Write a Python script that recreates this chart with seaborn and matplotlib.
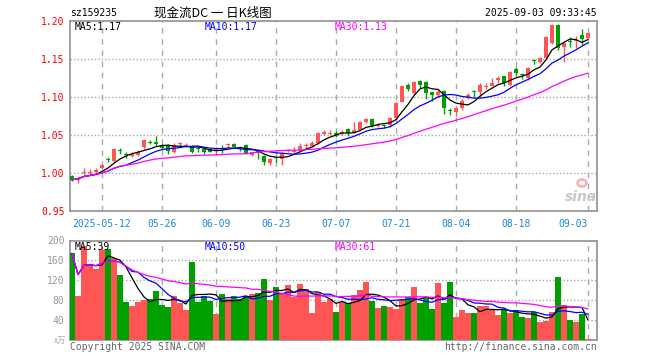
import numpy as np
import pandas as pd
import seaborn as sns
import matplotlib
matplotlib.use("Agg")
import matplotlib.pyplot as plt
from matplotlib.patches import Ellipse

# ---------------- data ----------------
holidays = ['2025-05-01', '2025-05-02', '2025-05-05', '2025-06-02']

opens = [0.996, 0.991, 1.000, 1.000, 1.001, 1.006, 1.018, 1.016, 1.030, 1.025,
         1.023, 1.024, 1.034, 1.041, 1.041, 1.037, 1.037, 1.027, 1.0375, 1.036,
         1.036, 1.032, 1.032, 1.031, 1.029, 1.032, 1.037, 1.038, 1.033, 1.037,
         1.024, 1.029, 1.023, 1.013, 1.020, 1.019, 1.029, 1.027, 1.030, 1.036,
         1.035, 1.040, 1.051, 1.051, 1.053, 1.052, 1.058, 1.053, 1.057, 1.067,
         1.071, 1.062, 1.063, 1.063, 1.072, 1.094, 1.116, 1.105, 1.121, 1.120,
         1.106, 1.103, 1.108, 1.082, 1.080, 1.085, 1.099, 1.108, 1.107, 1.113,
         1.115, 1.123, 1.127, 1.116, 1.137, 1.130, 1.125, 1.148, 1.146, 1.151,
         1.171, 1.195, 1.166, 1.1735, 1.174, 1.181, 1.178]
highs = [0.997, 0.995, 1.006, 1.005, 1.006, 1.012, 1.021, 1.033, 1.033, 1.028,
         1.027, 1.030, 1.045, 1.044, 1.049, 1.038, 1.038, 1.039, 1.041, 1.039,
         1.037, 1.036, 1.034, 1.033, 1.034, 1.037, 1.040, 1.039, 1.036, 1.038,
         1.027, 1.030, 1.024, 1.020, 1.021, 1.028, 1.032, 1.034, 1.040, 1.039,
         1.042, 1.054, 1.056, 1.056, 1.055, 1.056, 1.059, 1.067, 1.068, 1.072,
         1.072, 1.066, 1.064, 1.074, 1.093, 1.116, 1.119, 1.121, 1.122, 1.121,
         1.107, 1.109, 1.109, 1.085, 1.086, 1.097, 1.105, 1.109, 1.118, 1.119,
         1.125, 1.127, 1.128, 1.134, 1.139, 1.131, 1.140, 1.150, 1.152, 1.180,
         1.196, 1.196, 1.173, 1.179, 1.180, 1.190, 1.185]
lows = [0.989, 0.987, 0.997, 0.997, 0.999, 1.005, 1.014, 1.015, 1.025, 1.020,
        1.021, 1.022, 1.032, 1.038, 1.036, 1.031, 1.025, 1.026, 1.035, 1.034,
        1.026, 1.027, 1.025, 1.027, 1.025, 1.026, 1.033, 1.033, 1.029, 1.025,
        1.023, 1.019, 1.010, 1.011, 1.015, 1.011, 1.027, 1.026, 1.028, 1.031,
        1.034, 1.038, 1.050, 1.050, 1.048, 1.050, 1.049, 1.052, 1.055, 1.066,
        1.060, 1.060, 1.059, 1.061, 1.071, 1.093, 1.108, 1.103, 1.112, 1.097,
        1.095, 1.100, 1.078, 1.076, 1.075, 1.083, 1.097, 1.100, 1.101, 1.110,
        1.114, 1.118, 1.115, 1.115, 1.129, 1.124, 1.122, 1.144, 1.145, 1.150,
        1.170, 1.162, 1.146, 1.166, 1.165, 1.168, 1.176]
closes = [0.991, 0.994, 1.001, 1.001, 1.004, 1.010, 1.017, 1.032, 1.029, 1.024,
          1.025, 1.027, 1.043, 1.040, 1.038, 1.033, 1.029, 1.037, 1.039, 1.037,
          1.028, 1.031, 1.028, 1.028, 1.032, 1.031, 1.038, 1.034, 1.032, 1.026,
          1.027, 1.026, 1.014, 1.018, 1.0195, 1.026, 1.030, 1.029, 1.035, 1.037,
          1.040, 1.052, 1.054, 1.053, 1.050, 1.054, 1.052, 1.056, 1.067, 1.071,
          1.062, 1.063, 1.062, 1.072, 1.092, 1.114, 1.111, 1.120, 1.116, 1.105,
          1.102, 1.107, 1.085, 1.081, 1.085, 1.095, 1.102, 1.107, 1.116, 1.115,
          1.118, 1.125, 1.118, 1.133, 1.132, 1.129, 1.138, 1.147, 1.151, 1.179,
          1.195, 1.164, 1.171, 1.1725, 1.175, 1.176, 1.184]
volumes = [174, 88, 188, 153, 143, 180, 183, 165, 131, 76,
           68, 76, 79, 82, 98, 70, 66, 88, 74, 60,
           157, 76, 88, 78, 52, 92, 82, 88, 82, 88,
           92, 94, 123, 80, 106, 92, 110, 86, 112, 102,
           54, 96, 76, 82, 56, 75, 73, 90, 100, 117,
           78, 64, 68, 66, 62, 82, 85, 106, 73, 84,
           62, 115, 74, 117, 45, 60, 54, 54, 68, 68,
           60, 50, 60, 54, 57, 45, 43, 56, 35, 37,
           56, 127, 70, 39, 35, 52, 2]

tick_dates = ['2025-05-12', '2025-05-26', '2025-06-09', '2025-06-23', '2025-07-07',
              '2025-07-21', '2025-08-04', '2025-08-18', '2025-09-03']
tick_labels = ['2025-05-12', '05-26', '06-09', '06-23', '07-07',
               '07-21', '08-04', '08-18', '09-03']

# ---------------- build frame ----------------
days = pd.bdate_range('2025-04-30', '2025-09-03')
days = days[~days.isin(pd.to_datetime(holidays))]

df = pd.DataFrame({'date': days, 'open': opens, 'high': highs, 'low': lows,
                   'close': closes, 'volume': volumes})
df['i'] = np.arange(len(df))
df['up'] = df['close'] >= df['open']
for n in (5, 10, 30):
    df[f'ma{n}'] = df['close'].rolling(n, min_periods=1).mean()
    df[f'vma{n}'] = df['volume'].rolling(n, min_periods=1).mean()

tick_pos = [int(df.index[df['date'] == pd.Timestamp(d)][0]) for d in tick_dates]

RED = '#ff5555'
GREEN = '#00a000'
GRID = '#aaaaaa'
MONO = 'DejaVu Sans Mono'

sns.set_style('white')
plt.rcParams['font.family'] = ['DejaVu Sans Mono', 'DejaVu Sans']

W, H = 660, 360
fig = plt.figure(figsize=(W / 100, H / 100), dpi=100, facecolor='white')
ax = fig.add_axes([70 / W, 1 - 211 / H, 527 / W, 190 / H])
axv = fig.add_axes([70 / W, 1 - 339.5 / H, 527 / W, 99 / H])

def ftext(x, y, s, **kw):
    fig.text(x / W, 1 - y / H, s, va='center', **kw)

# ---------------- candles ----------------
cols = np.where(df['up'], RED, GREEN)
ax.vlines(df['i'], df['low'], df['high'], colors=cols, lw=1, zorder=3)
bottom = np.minimum(df['open'], df['close'])
height = np.maximum((df['close'] - df['open']).abs(), 0.0013)
ax.bar(df['i'], height, bottom=bottom, width=0.75, color=cols, linewidth=0, zorder=4)

sns.lineplot(data=df, x='i', y='ma5', ax=ax, color='black', lw=0.9, zorder=5)
sns.lineplot(data=df, x='i', y='ma10', ax=ax, color='#0000ff', lw=0.9, zorder=5)
sns.lineplot(data=df, x='i', y='ma30', ax=ax, color='#ff00ff', lw=0.9, zorder=5)

# ---------------- volume ----------------
axv.bar(df['i'], df['volume'], width=0.85, color=cols, linewidth=0, zorder=3)
sns.lineplot(data=df, x='i', y='vma5', ax=axv, color='black', lw=0.9, zorder=5)
sns.lineplot(data=df, x='i', y='vma10', ax=axv, color='#0000ff', lw=0.9, zorder=5)
sns.lineplot(data=df, x='i', y='vma30', ax=axv, color='#ff00ff', lw=0.9, zorder=5)

# ---------------- axes styling ----------------
for a in (ax, axv):
    a.set_xlim(-0.33, 87.5)
    a.set_xlabel('')
    a.set_ylabel('')
    a.set_axisbelow(True)
    for s in a.spines.values():
        s.set_color('#999999')
        s.set_linewidth(1.3)
    a.set_xticks(tick_pos)
    a.xaxis.grid(True, color=GRID, ls=(0, (4, 4)), lw=1)
    a.tick_params(length=0)

ax.set_ylim(0.95, 1.20)
yt = [0.95, 1.00, 1.05, 1.10, 1.15, 1.20]
ax.set_yticks(yt)
ax.set_yticklabels([f'{v:.2f}' for v in yt], fontsize=7, color='red', family=MONO)
ax.tick_params(axis='y', pad=4)
for v in yt[1:-1]:
    ax.axhline(v, color=GRID, ls=(0, (1, 1.5)), lw=1, zorder=1)
ax.set_xticklabels(tick_labels, fontsize=7, color='#1a86e6', family=MONO)
ax.tick_params(axis='x', pad=6)
ax.get_xticklabels()[-1].set_ha('right')

axv.set_ylim(0, 200)
vt = [40, 80, 120, 160, 200]
axv.set_yticks(vt)
axv.set_yticklabels([str(v) for v in vt], fontsize=7, color='#999999', family=MONO)
axv.tick_params(axis='y', pad=4)
axv.set_xticklabels([])
for v in vt[:-1]:
    axv.axhline(v, color=GRID, ls=(0, (1, 1.5)), lw=1, zorder=1)

# ---------------- texts ----------------
def trunc(v, d):
    f = 10 ** d
    return np.floor(v * f) / f

last = df.iloc[-1]
ftext(70, 13, 'sz159235', fontsize=7, family=MONO, color='black')
ftext(213, 13, '现金流DC 一 日K线图', fontsize=9, ha='center',
      family=['Noto Sans CJK SC', 'DejaVu Sans'], color='black')
ftext(597, 13, '2025-09-03 09:33:45', fontsize=7, family=MONO, ha='right', color='black')

ftext(75, 27, f"MA5:{trunc(last['ma5'], 2):.2f}", fontsize=7, family=MONO, color='black')
ftext(205, 27, f"MA10:{trunc(last['ma10'], 2):.2f}", fontsize=7, family=MONO, color='#0000ff')
ftext(335, 27, f"MA30:{trunc(last['ma30'], 2):.2f}", fontsize=7, family=MONO, color='#ff00ff')

ftext(75, 247, f"MA5:{int(last['vma5'])}", fontsize=7, family=MONO, color='black')
ftext(205, 247, f"MA10:{int(last['vma10'])}", fontsize=7, family=MONO, color='#0000ff')
ftext(335, 247, f"MA30:{int(last['vma30'])}", fontsize=7, family=MONO, color='#ff00ff')

ftext(66, 340, 'x万', fontsize=6, ha='right', color='#aaaaaa',
      family=['Noto Sans CJK SC', 'DejaVu Sans'])
ftext(70, 347, 'Copyright 2025 SINA.COM', fontsize=7, family=MONO, color='#666666')
ftext(597, 347, 'http://finance.sina.com.cn', fontsize=7, family=MONO, ha='right', color='#666666')

# sina watermark
fig.add_artist(Ellipse((582 / 100, (H - 183) / 100), 0.09, 0.07, transform=fig.dpi_scale_trans,
                       facecolor='none', edgecolor='#f4b8b8', lw=2))
ftext(581, 197, 'sina', fontsize=10, style='italic', weight='bold', ha='center',
      color='#c8c8c8', family='DejaVu Sans')

fig.savefig('out.png', dpi=100, facecolor='white')
